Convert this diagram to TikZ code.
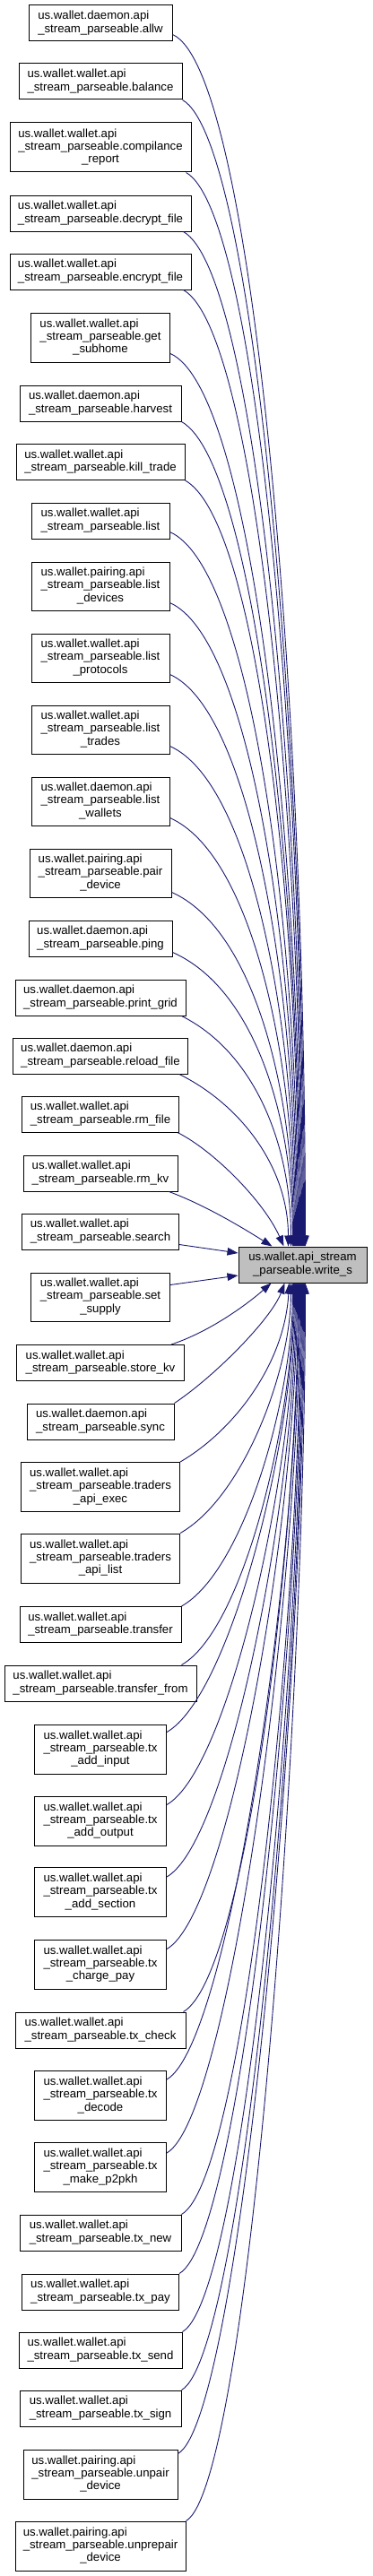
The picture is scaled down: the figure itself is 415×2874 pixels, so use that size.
\documentclass[tikz,border=0pt]{standalone}
\usepackage{fontspec}
\setmainfont{Liberation Sans}
\usetikzlibrary{arrows.meta,calc}
\definecolor{edgeblue}{RGB}{25,25,112}
\definecolor{tgtfill}{RGB}{191,191,191}
\newcommand\twol[2]{\begin{tabular}{@{}l@{}}#1\\\multicolumn{1}{@{}c@{}}{#2}\end{tabular}}
\newcommand\threel[3]{\begin{tabular}{@{}l@{}}#1\\#2\\\multicolumn{1}{@{}c@{}}{#3}\end{tabular}}
\begin{document}
\begin{tikzpicture}[x=1pt,y=-1pt,
  box/.style={draw=black, fill=white, line width=1pt, inner sep=0pt,
    font=\fontsize{13.2}{14.3}\selectfont},
  tgt/.style={box, fill=tgtfill},
  edge/.style={draw=edgeblue, line width=0.9pt, -{Triangle[length=12pt,width=8.5pt]}}]
\useasboundingbox (0,0) rectangle (415,2874);
% caller nodes
\node[box, minimum width=160, minimum height=40] (n1) at (112,26) {\twol{us.wallet.daemon.api}{\_stream\_parseable.allw}};
\node[box, minimum width=182, minimum height=40] (n2) at (112,91) {\twol{us.wallet.wallet.api}{\_stream\_parseable.balance}};
\node[box, minimum width=202, minimum height=55] (n3) at (112,164.5) {\threel{us.wallet.wallet.api}{\_stream\_parseable.compilance}{\_report}};
\node[box, minimum width=202, minimum height=40] (n4) at (112,238) {\twol{us.wallet.wallet.api}{\_stream\_parseable.decrypt\_file}};
\node[box, minimum width=202, minimum height=40] (n5) at (112,303) {\twol{us.wallet.wallet.api}{\_stream\_parseable.encrypt\_file}};
\node[box, minimum width=155, minimum height=55] (n6) at (112,376.5) {\threel{us.wallet.wallet.api}{\_stream\_parseable.get}{\_subhome}};
\node[box, minimum width=180, minimum height=40] (n7) at (112,450) {\twol{us.wallet.daemon.api}{\_stream\_parseable.harvest}};
\node[box, minimum width=188, minimum height=40] (n8) at (112,515.5) {\twol{us.wallet.wallet.api}{\_stream\_parseable.kill\_trade}};
\node[box, minimum width=154, minimum height=40] (n9) at (112,581) {\twol{us.wallet.wallet.api}{\_stream\_parseable.list}};
\node[box, minimum width=154, minimum height=54] (n10) at (112,654) {\threel{us.wallet.pairing.api}{\_stream\_parseable.list}{\_devices}};
\node[box, minimum width=154, minimum height=54] (n11) at (112,734) {\threel{us.wallet.wallet.api}{\_stream\_parseable.list}{\_protocols}};
\node[box, minimum width=154, minimum height=54] (n12) at (112,814) {\threel{us.wallet.wallet.api}{\_stream\_parseable.list}{\_trades}};
\node[box, minimum width=154, minimum height=54] (n13) at (112,894) {\threel{us.wallet.daemon.api}{\_stream\_parseable.list}{\_wallets}};
\node[box, minimum width=158, minimum height=54] (n14) at (112,974) {\threel{us.wallet.pairing.api}{\_stream\_parseable.pair}{\_device}};
\node[box, minimum width=160, minimum height=40] (n15) at (112,1047) {\twol{us.wallet.daemon.api}{\_stream\_parseable.ping}};
\node[box, minimum width=190, minimum height=40] (n16) at (112,1113) {\twol{us.wallet.daemon.api}{\_stream\_parseable.print\_grid}};
\node[box, minimum width=195, minimum height=40] (n17) at (112,1178) {\twol{us.wallet.daemon.api}{\_stream\_parseable.reload\_file}};
\node[box, minimum width=175, minimum height=40] (n18) at (112,1243) {\twol{us.wallet.wallet.api}{\_stream\_parseable.rm\_file}};
\node[box, minimum width=172, minimum height=40] (n19) at (112,1309) {\twol{us.wallet.wallet.api}{\_stream\_parseable.rm\_kv}};
\node[box, minimum width=175, minimum height=40] (n20) at (112,1374) {\twol{us.wallet.wallet.api}{\_stream\_parseable.search}};
\node[box, minimum width=155, minimum height=54] (n21) at (112,1447) {\threel{us.wallet.wallet.api}{\_stream\_parseable.set}{\_supply}};
\node[tgt, minimum width=143, minimum height=40] (t) at (337.5,1411) {\twol{us.wallet.api\_stream}{\_parseable.write\_s}};
\node[box, minimum width=187, minimum height=40] (n22) at (112,1520.5) {\twol{us.wallet.wallet.api}{\_stream\_parseable.store\_kv}};
\node[box, minimum width=164, minimum height=40] (n23) at (112,1586) {\twol{us.wallet.daemon.api}{\_stream\_parseable.sync}};
\node[box, minimum width=177, minimum height=55] (n24) at (112,1659) {\threel{us.wallet.wallet.api}{\_stream\_parseable.traders}{\_api\_exec}};
\node[box, minimum width=177, minimum height=55] (n25) at (112,1738.5) {\threel{us.wallet.wallet.api}{\_stream\_parseable.traders}{\_api\_list}};
\node[box, minimum width=180, minimum height=40] (n26) at (112,1812.5) {\twol{us.wallet.wallet.api}{\_stream\_parseable.transfer}};
\node[box, minimum width=214, minimum height=40] (n27) at (112,1878) {\twol{us.wallet.wallet.api}{\_stream\_parseable.transfer\_from}};
\node[box, minimum width=147, minimum height=55] (n28) at (112,1951.5) {\threel{us.wallet.wallet.api}{\_stream\_parseable.tx}{\_add\_input}};
\node[box, minimum width=147, minimum height=55] (n29) at (112,2031.5) {\threel{us.wallet.wallet.api}{\_stream\_parseable.tx}{\_add\_output}};
\node[box, minimum width=147, minimum height=55] (n30) at (112,2111) {\threel{us.wallet.wallet.api}{\_stream\_parseable.tx}{\_add\_section}};
\node[box, minimum width=147, minimum height=55] (n31) at (112,2191.5) {\threel{us.wallet.wallet.api}{\_stream\_parseable.tx}{\_charge\_pay}};
\node[box, minimum width=190, minimum height=40] (n32) at (112,2265) {\twol{us.wallet.wallet.api}{\_stream\_parseable.tx\_check}};
\node[box, minimum width=147, minimum height=55] (n33) at (112,2338) {\threel{us.wallet.wallet.api}{\_stream\_parseable.tx}{\_decode}};
\node[box, minimum width=147, minimum height=55] (n34) at (112,2418) {\threel{us.wallet.wallet.api}{\_stream\_parseable.tx}{\_make\_p2pkh}};
\node[box, minimum width=180, minimum height=40] (n35) at (112,2491) {\twol{us.wallet.wallet.api}{\_stream\_parseable.tx\_new}};
\node[box, minimum width=175, minimum height=40] (n36) at (112,2557) {\twol{us.wallet.wallet.api}{\_stream\_parseable.tx\_pay}};
\node[box, minimum width=182, minimum height=40] (n37) at (112,2622) {\twol{us.wallet.wallet.api}{\_stream\_parseable.tx\_send}};
\node[box, minimum width=180, minimum height=40] (n38) at (112,2687) {\twol{us.wallet.wallet.api}{\_stream\_parseable.tx\_sign}};
\node[box, minimum width=172, minimum height=55] (n39) at (112,2760.5) {\threel{us.wallet.pairing.api}{\_stream\_parseable.unpair}{\_device}};
\node[box, minimum width=190, minimum height=55] (n40) at (112,2840.5) {\threel{us.wallet.pairing.api}{\_stream\_parseable.unprepair}{\_device}};
% edges into the top of the target
\draw[edge] ([yshift=8pt]n1.south east) .. controls +(90,40) and +(0,-609) .. ([xshift=75pt]t.north west);
\draw[edge] (n2.south east) .. controls +(80,45) and +(0,-576) .. ([xshift=74pt]t.north west);
\draw[edge] ([xshift=-6pt]n3.south east) .. controls +(80,45) and +(0,-540) .. ([xshift=73pt]t.north west);
\draw[edge] ([xshift=-9pt]n4.south east) .. controls +(80,45) and +(0,-510) .. ([xshift=72pt]t.north west);
\draw[edge] ([xshift=-9pt]n5.south east) .. controls +(80,45) and +(0,-481) .. ([xshift=71pt]t.north west);
\draw[edge] ([yshift=10pt]n6.south east) .. controls +(90,40) and +(0,-449) .. ([xshift=70pt]t.north west);
\draw[edge] (n7.south east) .. controls +(80,45) and +(0,-415) .. ([xshift=69pt]t.north west);
\draw[edge] (n8.south east) .. controls +(80,45) and +(0,-385) .. ([xshift=68pt]t.north west);
\draw[edge] ([yshift=8pt]n9.south east) .. controls +(90,40) and +(0,-359) .. ([xshift=67pt]t.north west);
\draw[edge] ([yshift=9pt]n10.south east) .. controls +(90,40) and +(0,-324) .. ([xshift=66pt]t.north west);
\draw[edge] ([yshift=9pt]n11.south east) .. controls +(90,40) and +(0,-288) .. ([xshift=65pt]t.north west);
\draw[edge] ([yshift=9pt]n12.south east) .. controls +(90,40) and +(0,-252) .. ([xshift=64pt]t.north west);
\draw[edge] ([yshift=9pt]n13.south east) .. controls +(90,40) and +(0,-216) .. ([xshift=63pt]t.north west);
\draw[edge] ([yshift=6pt]n14.south east) .. controls +(90,40) and +(0,-178) .. ([xshift=62pt]t.north west);
\draw[edge] ([yshift=5pt]n15.south east) .. controls +(90,40) and +(0,-148) .. ([xshift=61pt]t.north west);
\draw[edge] ([xshift=-5pt]n16.south east) .. controls +(80,40) and +(0,-116) .. ([xshift=59pt]t.north west);
\draw[edge] ([xshift=-10pt]n17.south east) .. controls +(70,35) and +(0,-87) .. ([xshift=56pt]t.north west);
\draw[edge] ([xshift=-2pt]n18.south east) .. controls +(40,20) and +(-22,-50) .. ([xshift=51pt]t.north west);
\draw[edge] ([xshift=-10pt]n19.south east) .. controls +(40,15) and +(-35,-22) .. ([xshift=38pt]t.north west);
\draw[edge] ([yshift=6pt]n20.south east) -- ([yshift=13pt]t.west);
\draw[edge] ([yshift=-14pt]n21.north east) -- ([yshift=-12pt]t.west);
% edges into the bottom of the target
\draw[edge] ([xshift=-15pt]n22.north east) .. controls +(45,-15) and +(-25,22) .. ([xshift=37pt]t.south west);
\draw[edge] (n23.north east) .. controls +(45,-30) and +(-15,40) .. ([xshift=52pt]t.south west);
\draw[edge] (n24.north east) .. controls +(60,-35) and +(-5,90) .. ([xshift=57pt]t.south west);
\draw[edge] (n25.north east) .. controls +(70,-40) and +(0,98) .. ([xshift=59pt]t.south west);
\draw[edge] (n26.north east) .. controls +(70,-40) and +(0,127) .. ([xshift=61pt]t.south west);
\draw[edge] ([xshift=-17pt]n27.north east) .. controls +(70,-40) and +(0,149) .. ([xshift=62pt]t.south west);
\draw[edge] ([yshift=-9pt]n28.north east) .. controls +(70,-40) and +(0,176) .. ([xshift=63pt]t.south west);
\draw[edge] ([yshift=-10pt]n29.north east) .. controls +(70,-40) and +(0,204) .. ([xshift=64pt]t.south west);
\draw[edge] ([yshift=-11pt]n30.north east) .. controls +(70,-40) and +(0,232) .. ([xshift=65pt]t.south west);
\draw[edge] ([yshift=-11pt]n31.north east) .. controls +(70,-40) and +(0,260) .. ([xshift=66pt]t.south west);
\draw[edge] ([xshift=-3pt]n32.north east) .. controls +(70,-40) and +(0,285) .. ([xshift=67pt]t.south west);
\draw[edge] ([yshift=-10pt]n33.north east) .. controls +(70,-40) and +(0,312) .. ([xshift=68pt]t.south west);
\draw[edge] ([yshift=-12pt]n34.north east) .. controls +(70,-40) and +(0,340) .. ([xshift=69pt]t.south west);
\draw[edge] (n35.north east) .. controls +(70,-40) and +(0,364) .. ([xshift=70pt]t.south west);
\draw[edge] (n36.north east) .. controls +(70,-40) and +(0,387) .. ([xshift=71pt]t.south west);
\draw[edge] (n37.north east) .. controls +(70,-40) and +(0,410) .. ([xshift=72pt]t.south west);
\draw[edge] (n38.north east) .. controls +(70,-40) and +(0,433) .. ([xshift=73pt]t.south west);
\draw[edge] ([yshift=-5pt]n39.north east) .. controls +(70,-40) and +(0,457) .. ([xshift=74pt]t.south west);
\draw[edge] (n40.north east) .. controls +(70,-40) and +(0,484) .. ([xshift=75pt]t.south west);
\end{tikzpicture}
\end{document}
